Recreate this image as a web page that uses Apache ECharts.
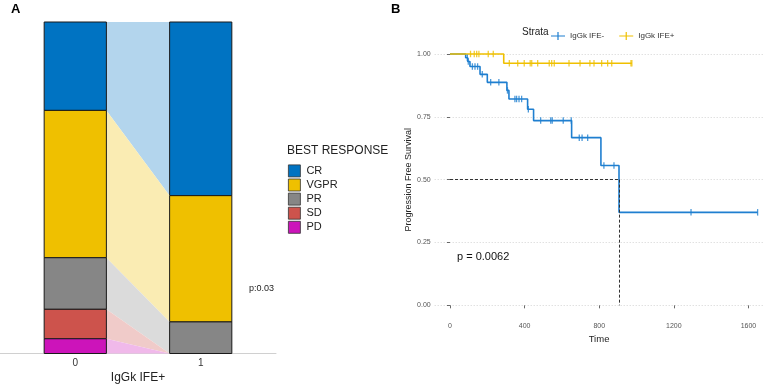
<!DOCTYPE html>
<html>
<head>
<meta charset="utf-8">
<script src="https://cdn.jsdelivr.net/npm/echarts@6/dist/echarts.min.js"></script>
<style>html,body{margin:0;padding:0;background:#fff}#c{width:771px;height:384px}</style>
</head>
<body>
<div id="c"></div>
<script>
// ---------- Panel A data ----------
const respLevels = ['CR', 'VGPR', 'PR', 'SD', 'PD'];
const groupLabels = [0, 1];
const countsIFEneg = [12, 20, 7, 4, 2];
const countsIFEpos = [11, 8, 2, 0, 0];
const pTextA = 'p:0.03';

// ---------- Panel B data ----------
const strataNames = ['IgGk IFE-', 'IgGk IFE+'];
const negTimes = [0, 84, 95, 107, 161, 200, 305, 316, 416, 448, 652, 809, 906, 1649];
const negSurv  = [1, 0.985, 0.97, 0.95, 0.919, 0.887, 0.855, 0.821, 0.78, 0.735, 0.667, 0.556, 0.37, 0.37];
const negCensor = [93, 98, 120, 134, 148, 173, 218, 262, 308, 348, 357, 370, 384, 420, 486, 540, 548, 607, 650, 693, 708, 738, 825, 879, 1292, 1649];
const posTimes = [0, 288, 975];
const posSurv  = [1, 0.963, 0.963];
const posCensor = [110, 130, 143, 155, 205, 232, 318, 363, 398, 430, 438, 470, 532, 545, 559, 638, 697, 750, 772, 813, 845, 867, 970, 975];
const medianTime = 906;
const xTicksB = [0, 400, 800, 1200, 1600];
const yTicksB = [0, 0.25, 0.5, 0.75, 1];
const pTextB = 'p = 0.0062';

// ---------- styles ----------
const respColors = ['#0073C2', '#EFC000', '#868686', '#CD534C', '#CC14BA'];
const strataColors = ['#1F7FD0', '#EFC000'];
const FONT = 'Liberation Sans, Arial, sans-serif';

function lighten(hex, a) {
  const r = parseInt(hex.slice(1, 3), 16), g = parseInt(hex.slice(3, 5), 16), b = parseInt(hex.slice(5, 7), 16);
  const f = c => Math.round(c * a + 255 * (1 - a));
  return 'rgb(' + f(r) + ',' + f(g) + ',' + f(b) + ')';
}

// stacked proportions (CR on top)
function stackBounds(counts) {
  const tot = counts.reduce((s, v) => s + v, 0);
  let top = 1;
  return counts.map(c => { const b = top - c / tot; const r = [b, top]; top = b; return r; });
}
const b0 = stackBounds(countsIFEneg), b1 = stackBounds(countsIFEpos);
const HW = 0.248;

const alluvialSeries = respLevels.map((lvl, i) => ({
  type: 'custom',
  name: lvl,
  xAxisIndex: 0, yAxisIndex: 0,
  itemStyle: { color: respColors[i] },
  data: [[b0[i][0], b0[i][1], b1[i][0], b1[i][1]]],
  renderItem: function (params, api) {
    const lb = api.value(0), lt = api.value(1), rb = api.value(2), rt = api.value(3);
    const x0 = groupLabels[0], x1 = groupLabels[1];
    const P = (x, y) => api.coord([x, y]);
    const children = [];
    const flow = [P(x0 + HW, lt), P(x1 - HW, rt), P(x1 - HW, rb), P(x0 + HW, lb)];
    children.push({ type: 'polygon', shape: { points: flow }, style: { fill: lighten(respColors[i], 0.3) } });
    const mkRect = (x, bot, top) => {
      const a = P(x - HW, top), b = P(x + HW, bot);
      return { type: 'rect', shape: { x: a[0], y: a[1], width: b[0] - a[0], height: b[1] - a[1] },
        style: { fill: respColors[i], stroke: '#1a1a1a', lineWidth: 1 } };
    };
    if (lt - lb > 1e-9) children.push(mkRect(x0, lb, lt));
    if (rt - rb > 1e-9) children.push(mkRect(x1, rb, rt));
    return { type: 'group', children: children };
  }
}));

function survAt(times, surv, t) {
  let v = surv[0];
  for (let k = 0; k < times.length; k++) if (times[k] <= t) v = surv[k];
  return v;
}
const zip = (a, b) => a.map((v, k) => [v, b[k]]);
const plusIcon = 'path://M0,4.4L14,4.4L14,5.6L0,5.6Z M6.4,1L7.6,1L7.6,9L6.4,9Z';

const kmSeries = [
  { type: 'line', name: strataNames[0], xAxisIndex: 1, yAxisIndex: 1, step: 'end', showSymbol: false,
    color: strataColors[0], lineStyle: { width: 1.6, color: strataColors[0] }, data: zip(negTimes, negSurv), z: 3,
    markLine: { silent: true, symbol: 'none', label: { show: false },
      lineStyle: { type: [3, 2], color: '#333', width: 1 },
      data: [[{ coord: [0, 0.5] }, { coord: [medianTime, 0.5] }], [{ coord: [medianTime, 0.5] }, { coord: [medianTime, 0] }]] } },
  { type: 'line', name: strataNames[1], xAxisIndex: 1, yAxisIndex: 1, step: 'end', showSymbol: false,
    color: strataColors[1], lineStyle: { width: 1.6, color: strataColors[1] }, data: zip(posTimes, posSurv), z: 3 },
  { type: 'scatter', name: 'cens-', xAxisIndex: 1, yAxisIndex: 1, symbol: 'rect', symbolSize: [1.3, 6.5],
    itemStyle: { color: strataColors[0] }, data: negCensor.map(t => [t, survAt(negTimes, negSurv, t)]), z: 4 },
  { type: 'scatter', name: 'cens+', xAxisIndex: 1, yAxisIndex: 1, symbol: 'rect', symbolSize: [1.3, 6.5],
    itemStyle: { color: strataColors[1] }, data: posCensor.map(t => [t, survAt(posTimes, posSurv, t)]), z: 4 }
];

const chart = echarts.init(document.getElementById('c'), null, { renderer: 'canvas' });
chart.setOption({
  animation: false,
  textStyle: { fontFamily: FONT },
  title: [
    { text: 'A', left: 6, top: -2, textStyle: { fontSize: 13, fontWeight: 'bold', color: '#000', fontFamily: FONT } },
    { text: 'B', left: 386, top: -2, textStyle: { fontSize: 13, fontWeight: 'bold', color: '#000', fontFamily: FONT } }
  ],
  grid: [
    { left: 0, right: 495, top: 22, bottom: 30.5, outerBoundsMode: 'none', containLabel: false },
    { left: 434.7, right: 7.6, top: 41.4, bottom: 66.1, outerBoundsMode: 'none', containLabel: false }
  ],
  xAxis: [
    { type: 'value', gridIndex: 0, min: -0.6, max: 1.6,
      axisLine: { show: true, lineStyle: { color: '#d0d0d0', width: 1 } },
      axisTick: { show: false }, splitLine: { show: false },
      axisLabel: { customValues: groupLabels, color: '#333', fontSize: 10, margin: 5, formatter: v => String(v) },
      name: 'IgGk IFE+', nameLocation: 'middle', nameGap: 24, nameMoveOverlap: false,
      nameTextStyle: { fontSize: 12, color: '#222', verticalAlign: 'middle' } },
    { type: 'value', gridIndex: 1, min: -82, max: 1680,
      axisLine: { show: false },
      axisTick: { show: true, customValues: xTicksB, length: 3, lineStyle: { color: '#444', width: 0.8 } },
      splitLine: { show: false },
      axisLabel: { customValues: xTicksB, color: '#555', fontSize: 7, margin: 5, formatter: v => String(v) },
      name: 'Time', nameLocation: 'middle', nameGap: 14, nameTextStyle: { fontSize: 9.5, color: '#222' } }
  ],
  yAxis: [
    { type: 'value', gridIndex: 0, min: 0, max: 1, show: false },
    { type: 'value', gridIndex: 1, min: -0.05, max: 1.05,
      axisLine: { show: false },
      axisTick: { show: true, customValues: yTicksB, length: 3, lineStyle: { color: '#444', width: 0.8 } },
      splitLine: { show: true, lineStyle: { type: [1, 2], color: '#c8c8c8', width: 0.8 } },
      axisLabel: { customValues: yTicksB, color: '#555', fontSize: 7, margin: 4, formatter: v => v.toFixed(2) },
      name: 'Progression Free Survival', nameLocation: 'middle', nameGap: 21, nameTextStyle: { fontSize: 9, color: '#222' } }
  ],
  legend: [
    { data: respLevels, orient: 'vertical', left: 283, top: 159.5, itemWidth: 12, itemHeight: 12, itemGap: 1.3,
      icon: 'rect', itemStyle: { borderColor: '#333', borderWidth: 0.8 },
      textStyle: { fontSize: 11, lineHeight: 12, color: '#222', padding: [0, 0, 0, 1] } },
    { data: strataNames, orient: 'horizontal', left: 546, top: 27, itemWidth: 14, itemHeight: 10, itemGap: 15,
      icon: plusIcon, textStyle: { fontSize: 8, color: '#333' } }
  ],
  graphic: [
    { type: 'text', left: 287, top: 145, style: { text: 'BEST RESPONSE', fontSize: 12, fill: '#222', fontFamily: FONT } },
    { type: 'text', left: 249, top: 284, style: { text: pTextA, fontSize: 9, fill: '#222', fontFamily: FONT } },
    { type: 'text', left: 522, top: 27.5, style: { text: 'Strata', fontSize: 10, fill: '#222', fontFamily: FONT } },
    { type: 'text', left: 457, top: 251, style: { text: pTextB, fontSize: 11, fill: '#111', fontFamily: FONT } }
  ],
  series: alluvialSeries.concat(kmSeries)
});
</script>
</body>
</html>
